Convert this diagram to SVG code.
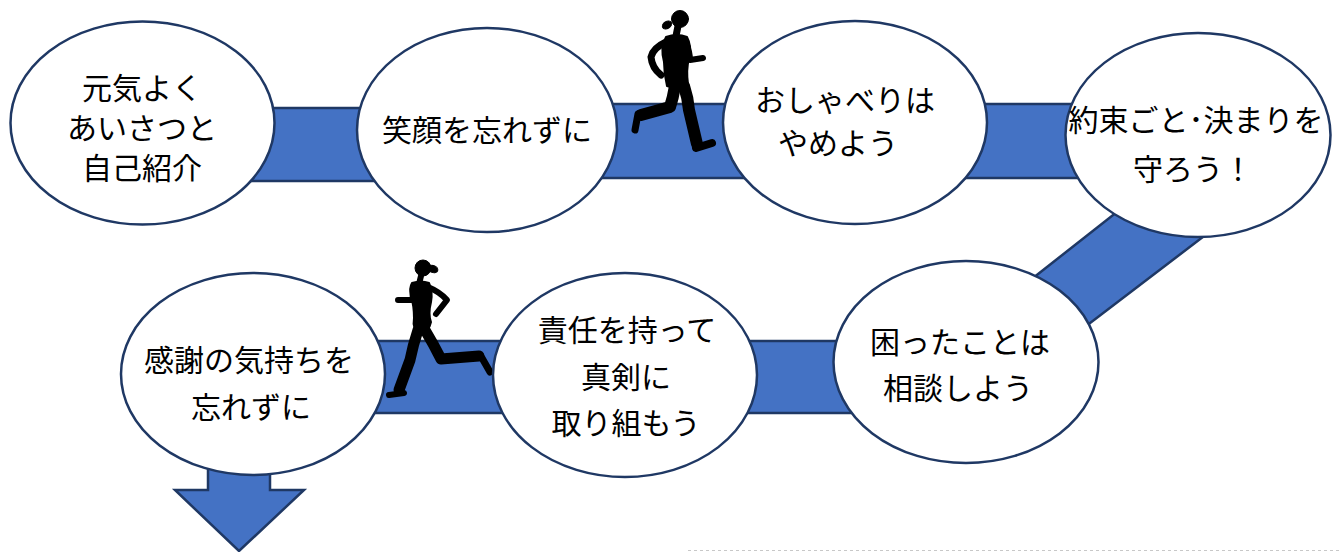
<svg xmlns="http://www.w3.org/2000/svg" width="1340" height="552" viewBox="0 0 1340 552">
<style>
.band{fill:#4472C4;stroke:#1F3864;stroke-width:2.5}
.node ellipse{fill:#fff;stroke:#1F3864;stroke-width:2.5}
.node text{font-family:"Noto Sans CJK JP","Noto Sans",sans-serif;font-size:30px;fill:#000;text-anchor:middle}
.runner{fill:#000;stroke:#000;stroke-linecap:round;stroke-linejoin:round}
.runner path.l{fill:none}
</style>
<rect width="1340" height="552" fill="#fff"/>
<g id="connectors">
<rect class="band" x="240" y="108" width="140" height="73"/>
<rect class="band" x="590" y="104" width="160" height="74"/>
<rect class="band" x="960" y="104" width="130" height="74"/>
<polygon class="band" points="1155,182 1250,201 1060,346 1000,304"/>
<rect class="band" x="730" y="341" width="130" height="72"/>
<rect class="band" x="360" y="341" width="160" height="72"/>
<polygon class="band" points="208,455 270,455 270,490 304,490 239,551 175,490 208,490"/>
</g>
<g id="runner-1" class="runner">
<circle cx="680" cy="19" r="8.5"/>
<ellipse cx="667" cy="25" rx="5" ry="3.5" transform="rotate(-30 667 25)"/>
<path class="l" d="M678 26 L676 36" stroke-width="7"/>
<path d="M666 37 Q677 33 687 37 Q692 46 689 58 Q686 70 688 84 Q678 90 667 86 Q664 74 664 62 Q660 48 666 37 Z" stroke-width="2"/>
<path class="l" d="M666 42 Q653 48 651 57 Q652 68 661 75" stroke-width="7"/>
<path class="l" d="M686 42 Q690 52 690 60 L703 58" stroke-width="6"/>
<path class="l" d="M675 86 Q673 98 670 107 L641 115" stroke-width="12"/>
<path class="l" d="M638 114 L635 130" stroke-width="7"/>
<path class="l" d="M684 86 Q688 98 689 110 L697 144" stroke-width="12"/>
<path class="l" d="M696 148 L712 143" stroke-width="8"/>
</g>
<g id="runner-2" class="runner">
<circle cx="423" cy="268" r="8"/>
<ellipse cx="433" cy="269" rx="5" ry="3.5" transform="rotate(20 433 269)"/>
<path class="l" d="M421 276 L419 284" stroke-width="6"/>
<path d="M412 283 Q421 280 429 283 Q433 292 431 302 Q428 314 431 322 Q429 332 420 333 Q412 330 414 318 Q414 306 411 296 Q409 288 412 283 Z" stroke-width="2"/>
<path class="l" d="M428 287 Q440 292 447 300 L436 314" stroke-width="6"/>
<path class="l" d="M414 287 Q412 295 413 300 L398 300" stroke-width="6"/>
<path class="l" d="M418 330 Q413 345 410 360 L399 390" stroke-width="11"/>
<path class="l" d="M389 395 L404 393" stroke-width="6"/>
<path class="l" d="M425 330 Q434 345 441 359 L479 356" stroke-width="11"/>
<path class="l" d="M482 358 L490 372" stroke-width="7"/>
</g>
<g id="node-1" class="node">
<ellipse cx="142.5" cy="123" rx="132" ry="101.5"/>
<text x="142" y="99">元気よく</text>
<text x="142" y="139">あいさつと</text>
<text x="142" y="179">自己紹介</text>
</g>
<g id="node-2" class="node">
<ellipse cx="487" cy="130" rx="130" ry="102"/>
<text x="487" y="141">笑顔を忘れずに</text>
</g>
<g id="node-3" class="node">
<ellipse cx="855" cy="122.5" rx="132" ry="101.5"/>
<text x="845" y="111">おしゃべりは</text>
<text x="838" y="154">やめよう</text>
</g>
<g id="node-4" class="node">
<ellipse cx="1198" cy="135" rx="132.5" ry="102"/>
<text x="1196" y="131">約束ごと･決まりを</text>
<text x="1193" y="180">守ろう！</text>
</g>
<g id="node-5" class="node">
<ellipse cx="966" cy="362" rx="132.5" ry="101"/>
<text x="960" y="353">困ったことは</text>
<text x="958" y="399">相談しよう</text>
</g>
<g id="node-6" class="node">
<ellipse cx="625" cy="375" rx="132" ry="102"/>
<text x="627" y="341">責任を持って</text>
<text x="626" y="388">真剣に</text>
<text x="626" y="434">取り組もう</text>
</g>
<g id="node-7" class="node">
<ellipse cx="253" cy="374" rx="132" ry="101"/>
<text x="249" y="371">感謝の気持ちを</text>
<text x="251" y="418">忘れずに</text>
</g>
<line x1="688" y1="550.5" x2="1340" y2="550.5" stroke="#c8c8c8" stroke-width="1" stroke-dasharray="3,3"/>
</svg>
